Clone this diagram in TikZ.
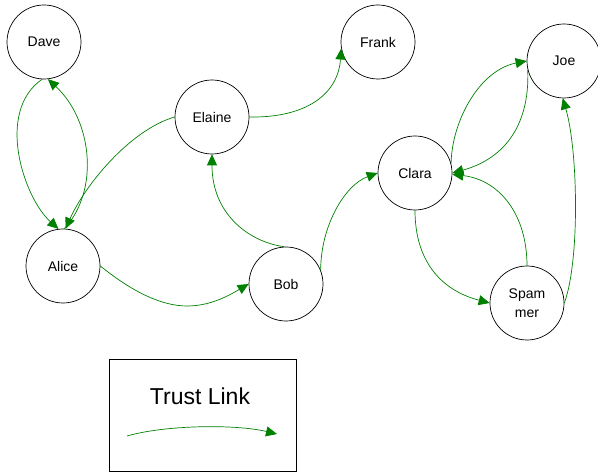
\documentclass[tikz,border=0pt]{standalone}
\usepackage{fontspec}
\setmainfont{Liberation Sans}
\usepackage{tikz}
\usetikzlibrary{arrows.meta}
\definecolor{linkgreen}{RGB}{0,128,0}
\newcommand{\trustlink}[1]{\draw[link] #1;}

\begin{document}
\begin{tikzpicture}[x=1pt,y=-1pt,
  person/.style={circle,draw,line width=0.7pt,minimum size=74pt,inner sep=0pt,
    font=\fontsize{14}{19}\selectfont,align=center},
  link/.style={draw=linkgreen,line width=0.7pt,
    -{Triangle[length=11pt,width=10pt,fill=linkgreen]}}]
\useasboundingbox (0,0) rectangle (598,473);
\node[person] (dave) at (44,42) {Dave};
\node[person] (elaine) at (212,117) {Elaine};
\node[person] (frank) at (378,42) {Frank};
\node[person] (joe) at (564,61) {Joe};
\node[person] (clara) at (415,173) {Clara};
\node[person] (alice) at (63,266) {Alice};
\node[person] (bob) at (286,284) {Bob};
\node[person] (spammer) at (527,303) {Spam\\mer};
% links
\trustlink{(dave.-93) .. controls (-5,112) and (24,198) .. (alice.97)}
\trustlink{(alice.88) .. controls (100,190) and (92,120) .. (dave.-84)}
\trustlink{(elaine.west) .. controls (130,130) and (85,185) .. (alice.86)}
\trustlink{(elaine.east) .. controls (305,118) and (338,95) .. (frank.190)}
\trustlink{(bob.93) .. controls (250,242) and (212,215) .. (elaine.south)}
\trustlink{(alice.east) .. controls (130,290) and (160,306) .. (187,306) .. controls (210,306) and (228,296) .. (bob.180)}
\trustlink{(bob.22) .. controls (321,225) and (345,185) .. (clara.west)}
\trustlink{(clara.15) .. controls (452,120) and (480,70) .. (joe.west)}
\trustlink{(joe.194) .. controls (530,130) and (500,160) .. (clara.east)}
\trustlink{(spammer.north) .. controls (527,215) and (500,180) .. (clara.-2)}
\trustlink{(clara.south) .. controls (415,260) and (440,290) .. (spammer.west)}
\trustlink{(spammer.east) .. controls (580,260) and (578,150) .. (joe.-92)}
% legend
\node[draw,line width=0.8pt,minimum width=187pt,minimum height=112pt,inner sep=0pt] (legend) at (202.5,415) {};
\node[font=\fontsize{23}{26}\selectfont] (legendtext) at (200,396) {Trust Link};
\coordinate (l1) at (127,436);
\coordinate (l2) at (277,434);
\trustlink{(l1) .. controls (165,425) and (235,424) .. (l2)}
\end{tikzpicture}
\end{document}
